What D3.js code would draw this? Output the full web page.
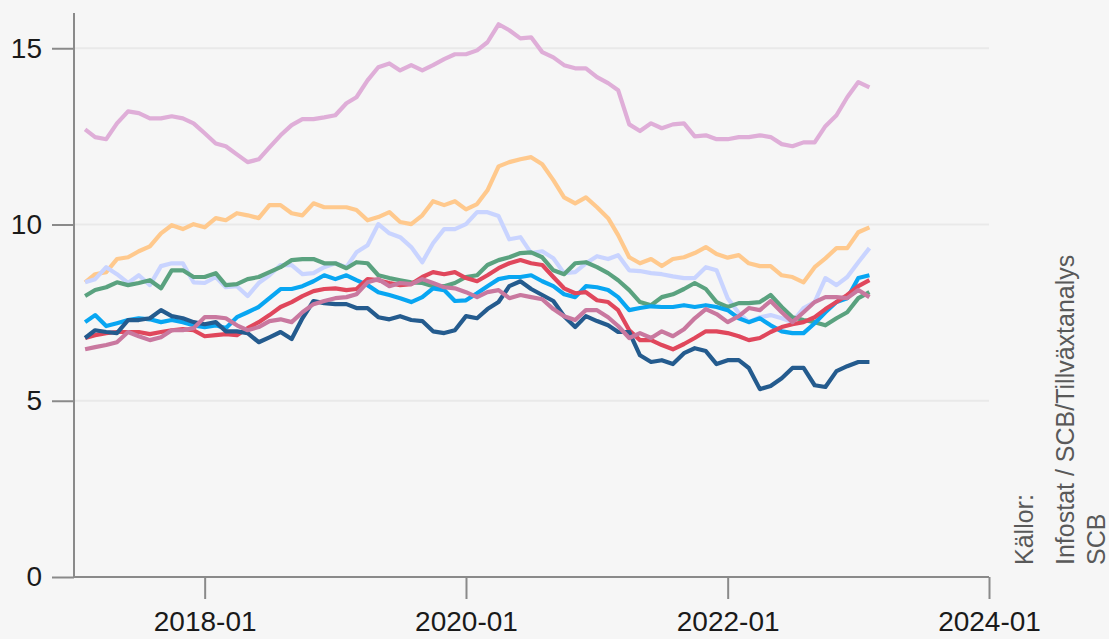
<!DOCTYPE html>
<html>
<head>
<meta charset="utf-8">
<script src="https://cdn.jsdelivr.net/npm/d3@7"></script>
<style>
  html, body { margin: 0; padding: 0; background: #f6f6f6; }
  #chart-container { width: 1109px; height: 639px; }
  text { font-family: "Liberation Sans", Arial, sans-serif; }
</style>
</head>
<body>
<div id="chart-container"></div>
<script>
'use strict';

// first month of data, one value per month after that
const startMonth = "2017-02"

const seriesNames = ["s1", "s2", "s3", "s4", "s5", "s6", "s7", "s8"]
const seriesColors = ["#dfaed8", "#ffc98d", "#c9d4ff", "#5aa27f", "#08a6f2", "#e0475c", "#245b8e", "#c9789f"]

const s1 = [12.70,12.48,12.42,12.87,13.21,13.16,13.01,13.01,13.07,13.01,12.87,12.59,12.30,12.22,11.99,11.77,11.85,12.19,12.53,12.82,12.99,12.99,13.04,13.10,13.44,13.61,14.09,14.46,14.57,14.37,14.52,14.37,14.52,14.69,14.83,14.83,14.94,15.17,15.68,15.51,15.28,15.31,14.89,14.74,14.52,14.43,14.43,14.18,14.01,13.81,12.84,12.65,12.87,12.73,12.84,12.87,12.50,12.53,12.42,12.42,12.48,12.48,12.53,12.48,12.28,12.22,12.33,12.33,12.79,13.10,13.61,14.04,13.89]
const s2 = [8.36,8.59,8.65,9.02,9.07,9.24,9.38,9.75,9.98,9.87,10.01,9.92,10.18,10.12,10.32,10.26,10.18,10.55,10.55,10.32,10.26,10.60,10.49,10.49,10.49,10.41,10.12,10.21,10.35,10.07,10.01,10.26,10.66,10.55,10.66,10.43,10.58,10.97,11.65,11.77,11.85,11.91,11.71,11.26,10.77,10.60,10.77,10.49,10.18,9.70,9.07,8.90,9.02,8.82,9.02,9.07,9.19,9.36,9.16,9.06,9.13,8.90,8.82,8.82,8.56,8.51,8.36,8.79,9.04,9.33,9.33,9.78,9.92]
const s3 = [8.36,8.45,8.79,8.59,8.34,8.56,8.28,8.82,8.90,8.90,8.36,8.34,8.51,8.22,8.25,7.97,8.34,8.56,8.85,8.85,8.59,8.62,8.79,8.90,8.79,9.21,9.41,10.01,9.75,9.64,9.36,8.93,9.47,9.87,9.87,10.01,10.35,10.35,10.24,9.58,9.64,9.19,9.24,9.04,8.62,8.65,8.90,9.10,9.02,9.13,8.70,8.68,8.62,8.59,8.53,8.48,8.48,8.79,8.70,7.91,7.49,7.23,7.37,7.43,7.34,7.23,7.63,7.80,8.48,8.28,8.51,8.93,9.33]
const s4 = [7.97,8.14,8.22,8.36,8.28,8.34,8.42,8.19,8.70,8.70,8.51,8.51,8.62,8.28,8.31,8.45,8.51,8.65,8.79,8.99,9.02,9.02,8.90,8.90,8.76,8.93,8.90,8.56,8.48,8.42,8.36,8.34,8.25,8.25,8.34,8.51,8.56,8.85,8.99,9.07,9.19,9.21,9.07,8.70,8.59,8.90,8.93,8.79,8.62,8.42,8.14,7.80,7.71,7.94,8.02,8.17,8.34,8.17,7.80,7.66,7.77,7.77,7.80,8.00,7.66,7.37,7.29,7.23,7.14,7.34,7.51,7.91,8.08]
const s5 = [7.23,7.43,7.12,7.20,7.29,7.34,7.31,7.23,7.29,7.23,7.14,7.09,7.14,7.06,7.37,7.51,7.66,7.91,8.17,8.17,8.25,8.39,8.56,8.45,8.56,8.42,8.28,8.08,8.00,7.91,7.80,7.94,8.19,8.14,7.83,7.85,8.05,8.25,8.45,8.51,8.51,8.56,8.39,8.25,8.02,7.94,8.25,8.22,8.14,7.94,7.57,7.63,7.68,7.66,7.66,7.71,7.66,7.71,7.66,7.57,7.34,7.23,7.34,7.14,6.97,6.92,6.92,7.20,7.51,7.80,7.91,8.48,8.56]
const s6 = [6.78,6.86,6.92,6.95,6.95,6.95,6.89,6.95,7.00,7.03,7.00,6.83,6.86,6.89,6.86,7.06,7.23,7.43,7.66,7.80,7.97,8.11,8.17,8.19,8.14,8.17,8.45,8.42,8.34,8.28,8.31,8.51,8.65,8.59,8.65,8.48,8.39,8.56,8.76,8.90,8.99,8.90,8.85,8.51,8.19,8.05,8.08,7.85,7.80,7.57,7.00,6.72,6.72,6.58,6.46,6.61,6.78,6.97,6.97,6.92,6.83,6.72,6.78,6.95,7.09,7.17,7.23,7.37,7.60,7.80,8.00,8.25,8.42]
const s7 = [6.78,7.00,6.95,6.92,7.29,7.29,7.34,7.57,7.40,7.34,7.23,7.17,7.23,6.97,6.97,6.92,6.66,6.80,6.95,6.75,7.34,7.83,7.77,7.74,7.74,7.63,7.63,7.37,7.31,7.40,7.29,7.26,6.97,6.92,7.00,7.40,7.34,7.60,7.80,8.25,8.39,8.17,8.00,7.83,7.40,7.09,7.40,7.26,7.14,6.95,6.95,6.29,6.10,6.15,6.04,6.35,6.49,6.41,6.04,6.15,6.15,5.93,5.33,5.42,5.64,5.93,5.93,5.44,5.39,5.84,5.98,6.10,6.10]
const s8 = [6.46,6.52,6.58,6.66,6.95,6.83,6.72,6.80,7.00,7.00,7.06,7.37,7.37,7.34,7.14,7.00,7.09,7.26,7.31,7.23,7.51,7.74,7.83,7.91,7.94,8.02,8.36,8.45,8.25,8.34,8.31,8.45,8.34,8.22,8.19,8.08,7.94,8.08,8.14,7.91,8.00,7.94,7.88,7.60,7.40,7.29,7.57,7.57,7.37,7.12,6.78,6.92,6.78,6.97,6.83,7.03,7.34,7.60,7.46,7.23,7.40,7.63,7.57,7.83,7.51,7.23,7.51,7.80,7.94,7.94,7.91,8.14,7.94]

const seriesValues = [s1, s2, s3, s4, s5, s6, s7, s8]

// axis ticks
const yTicks = [0, 5, 10, 15]
const xTicks = ["2018-01", "2020-01", "2022-01", "2024-01"]
const xDomain = ["2017-01", "2024-01"]
const yDomain = [0, 16]

const sourceLines = ["Källor:", "Infostat / SCB/Tillväxtanalys", "SCB"]

const svgWidth = 1109
const svgHeight = 639

const margin = { left: 74, right: 120, top: 13, bottom: 62 }

const parseMonth = d3.timeParse("%Y-%m")

const svg = d3.select("#chart-container").append("svg")
  .attr("width", svgWidth)
  .attr("height", svgHeight)

svg.append("rect")
  .attr("width", svgWidth)
  .attr("height", svgHeight)
  .attr("fill", "#f6f6f6")

const xScale = d3.scaleTime()
  .domain(xDomain.map(parseMonth))
  .range([margin.left, svgWidth - margin.right])

const yScale = d3.scaleLinear()
  .domain(yDomain)
  .range([svgHeight - margin.bottom, margin.top])

const plotRight = svgWidth - margin.right
const plotBottom = svgHeight - margin.bottom

//grid lines
svg.append("g")
  .selectAll("line")
  .data(yTicks.filter(t => t > 0))
  .join("line")
  .attr("x1", margin.left)
  .attr("x2", plotRight)
  .attr("y1", d => yScale(d))
  .attr("y2", d => yScale(d))
  .attr("stroke", "#e9e9e9")
  .attr("stroke-width", 2)

//y axis
const yAxis = d3.axisLeft(yScale)
  .tickValues(yTicks)
  .tickSize(22)
  .tickPadding(10)
  .tickFormat(d3.format("d"))

const yAxisG = svg.append("g")
  .attr("transform", "translate(" + margin.left + ",0)")
  .call(yAxis)

//x axis
const xAxis = d3.axisBottom(xScale)
  .tickValues(xTicks.map(parseMonth))
  .tickSize(22)
  .tickPadding(12)
  .tickFormat(d3.timeFormat("%Y-%m"))

const xAxisG = svg.append("g")
  .attr("transform", "translate(0," + plotBottom + ")")
  .call(xAxis)

;[yAxisG, xAxisG].forEach(g => {
  g.select(".domain").attr("stroke", "#8a8a8a").attr("stroke-width", 2)
  g.selectAll(".tick line").attr("stroke", "#8a8a8a").attr("stroke-width", 2)
  g.selectAll(".tick text")
    .attr("fill", "#1a1a1a")
    .style("font-size", "28px")
    .style("font-family", "'Liberation Sans', Arial, sans-serif")
})
xAxisG.select(".domain").attr("d", "M" + margin.left + ",0H" + plotRight)
yAxisG.select(".domain").attr("d", "M0," + margin.top + "V" + plotBottom)

//the lines
const start = parseMonth(startMonth)
const line = d3.line()
  .x((d, i) => xScale(d3.timeMonth.offset(start, i)))
  .y(d => yScale(d))

svg.append("g")
  .selectAll("path")
  .data(seriesValues)
  .join("path")
  .attr("class", (d, i) => "series " + seriesNames[i])
  .attr("d", line)
  .attr("fill", "none")
  .attr("stroke", (d, i) => seriesColors[i])
  .attr("stroke-width", 4.2)
  .attr("stroke-linejoin", "round")
  .attr("stroke-linecap", "butt")

//sources, rotated on the right side
const sourceX = [1033, 1074, 1105]
svg.append("g")
  .selectAll("text")
  .data(sourceLines)
  .join("text")
  .attr("transform", (d, i) => "translate(" + sourceX[i] + ",565) rotate(-90)")
  .attr("text-anchor", "start")
  .attr("fill", "#595959")
  .style("font-size", "25px")
  .text(d => d)
</script>
</body>
</html>
